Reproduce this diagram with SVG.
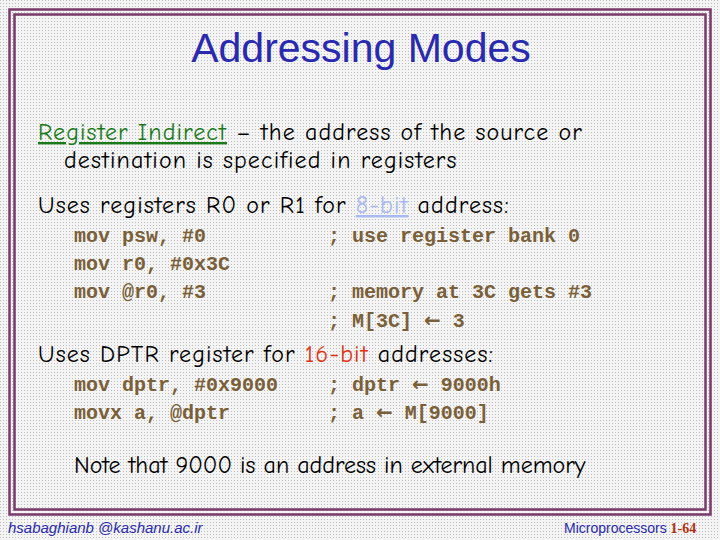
<svg xmlns="http://www.w3.org/2000/svg" width="720" height="540" viewBox="0 0 720 540">
<style>
.b{font-family:"Comic Neue","Liberation Sans",sans-serif;font-size:24px;letter-spacing:1.1px;fill:#000}
.c{font-family:"Liberation Mono",monospace;font-size:20px;font-weight:bold;fill:#7a6038}
.a{font-family:"DejaVu Sans",sans-serif;font-weight:bold;font-size:20px}
.f{fill:none;stroke:#7a3a6a;stroke-width:2.5}
</style>
<defs><pattern id="d" width="3" height="3" patternUnits="userSpaceOnUse"><rect width="3" height="3" fill="#f4f4f4"/><rect width="1" height="1" fill="#bdbdbd"/></pattern></defs>
<rect width="720" height="540" fill="url(#d)"/>
<rect class="f" x="9.5" y="9.5" width="701" height="505"/>
<rect class="f" x="14.5" y="14.5" width="691" height="495"/>
<text x="361" y="62" text-anchor="middle" font-family="Liberation Sans,sans-serif" font-size="41" fill="#2a2ab0">Addressing Modes</text>
<text class="b" x="38" y="140"><tspan fill="#1a7a1a" text-decoration="underline">Register Indirect</tspan> – the address of the source or</text>
<text class="b" x="64" y="168">destination is specified in registers</text>
<text class="b" x="38" y="213">Uses registers R0 or R1 for <tspan fill="#a8b8f0" text-decoration="underline">8-bit</tspan> address:</text>
<text class="c" x="74" y="242">mov psw, #0</text><text class="c" x="328" y="242">; use register bank 0</text>
<text class="c" x="74" y="270">mov r0, #0x3C</text>
<text class="c" x="74" y="298">mov @r0, #3</text><text class="c" x="328" y="298">; memory at 3C gets #3</text>
<text class="c" x="328" y="327">; M[3C] <tspan class="a">←</tspan> 3</text>
<text class="b" x="38" y="362">Uses DPTR register for <tspan fill="#e03010">16-bit</tspan> addresses:</text>
<text class="c" x="74" y="391">mov dptr, #0x9000</text><text class="c" x="328" y="391">; dptr <tspan class="a">←</tspan> 9000h</text>
<text class="c" x="74" y="419">movx a, @dptr</text><text class="c" x="328" y="419">; a <tspan class="a">←</tspan> M[9000]</text>
<text class="b" x="74" y="473" font-size="19" style="letter-spacing:0">Note that 9000 is an address in external memory</text>
<text x="8" y="533" font-family="Liberation Sans,sans-serif" font-style="italic" font-size="15" fill="#2a2ab0">hsabaghianb @kashanu.ac.ir</text>
<text x="564" y="533" font-family="Liberation Sans,sans-serif" font-size="14" fill="#2a2ab0">Microprocessors <tspan fill="#b03010" font-family="Liberation Serif,serif" font-weight="bold">1-64</tspan></text>
</svg>
